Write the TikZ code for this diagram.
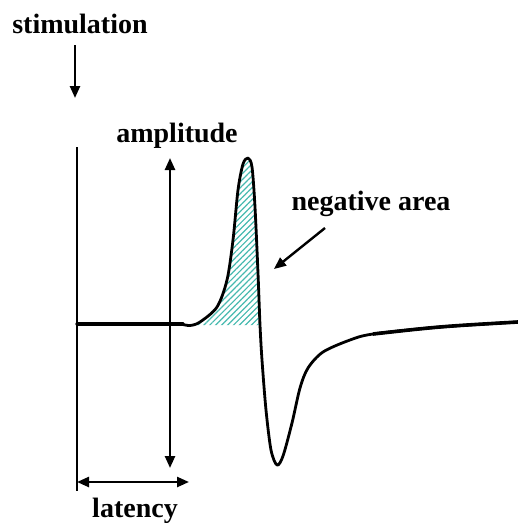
\documentclass[tikz,border=0pt]{standalone}
\usepackage{fontspec}
\setmainfont{Liberation Serif}
\usetikzlibrary{arrows.meta,patterns.meta}
\definecolor{hatchcol}{RGB}{70,185,175}
\begin{document}
\begin{tikzpicture}[x=1pt,y=-1pt,
  lbl/.style={font=\fontsize{28}{30}\selectfont\bfseries, inner sep=0pt, anchor=base},
  arr/.style={line width=2.4pt, -{Triangle[length=12pt,width=10pt]}},
  darr/.style={line width=2.4pt, {Triangle[length=12pt,width=10pt]}-{Triangle[length=12pt,width=10pt]}},
  axisline/.style={line width=2pt},
  wave/.style={line width=2.8pt, line join=round, line cap=round}]
\useasboundingbox (0,0) rectangle (518,523);
% labels
\node[lbl] (stim) at (80,33) {stimulation};
\node[lbl] (ampl) at (177,142) {amplitude};
\node[lbl] (neg) at (371,210) {negative area};
\node[lbl] (lat) at (135,517) {latency};
% coordinates
\coordinate (s1) at (75,45);
\coordinate (s2) at (75,98);
\coordinate (ltop) at (77,147);
\coordinate (lbot) at (77,491);
\coordinate (a1) at (170,158);
\coordinate (a2) at (170,468);
\coordinate (la1) at (77,482);
\coordinate (la2) at (189,482);
\coordinate (n1) at (325,228);
\coordinate (n2) at (274,269);
% hatched area
\path[pattern={Lines[angle=45,distance=4.2pt,line width=1.2pt]}, pattern color=hatchcol]
  plot[smooth,tension=0.5] coordinates {(192,325) (200,322) (217,307) (227,280) (233,240) (238,190) (243,164) (248,158) (252,167) (255,207) (258,273) (260,325)} -- cycle;
% axis line
\draw[axisline] (ltop) -- (lbot);
% waveform
\draw[wave, line width=3.2pt] (77,324) -- (183,324);
\draw[wave] plot[smooth,tension=0.5] coordinates {(181,324) (190,325.5) (200,322) (217,307) (227,280) (233,240) (238,190) (243,164) (248,158) (252,167) (255,207) (258,273) (260,325) (262,360) (266,410) (271,450) (277,465) (283,456) (292,423) (300,388) (308,368) (323,352) (350,340) (373,334) (440,327) (518,322)};
\draw[line width=3.6pt] (373,334) .. controls (440,326.5) .. (518,322);
% arrows
\draw[arr] (s1) -- (s2);
\draw[darr] (a1) -- (a2);
\draw[darr] (la1) -- (la2);
\draw[arr] (n1) -- (n2);
\end{tikzpicture}
\end{document}
